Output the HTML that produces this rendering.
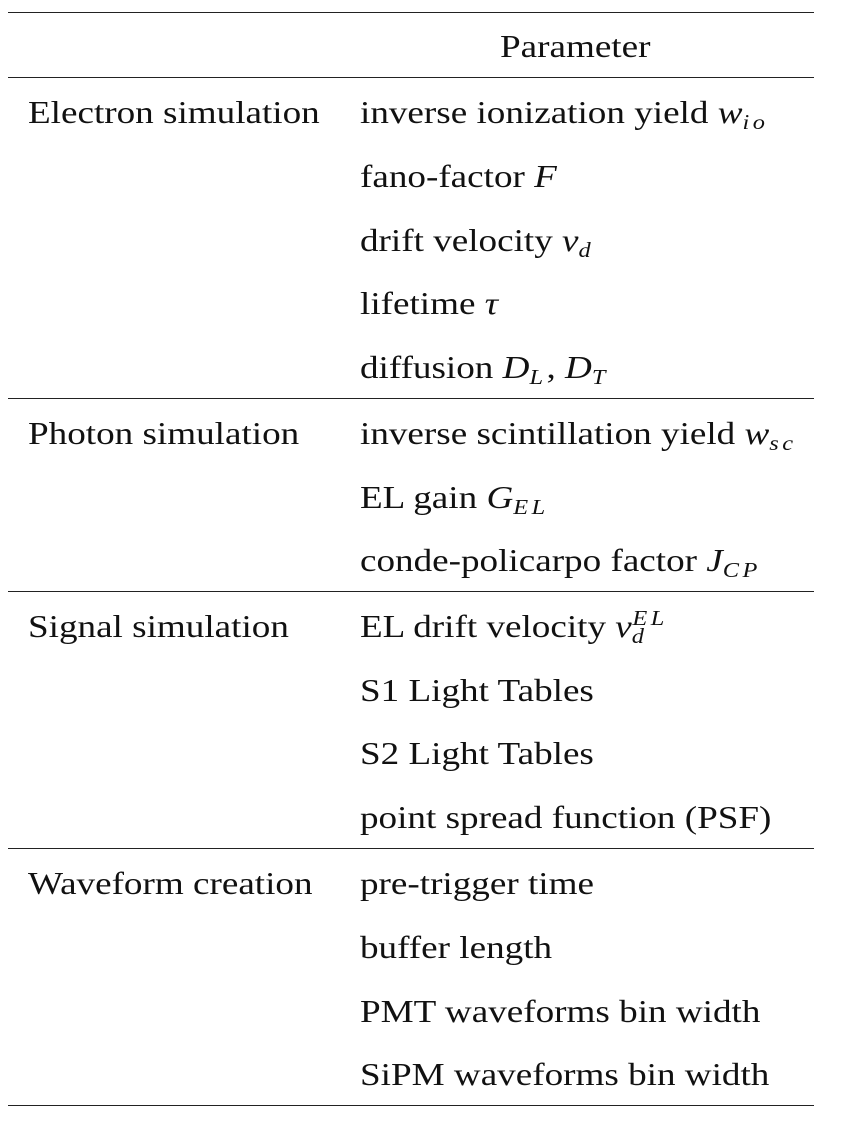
<!DOCTYPE html>
<html><head><meta charset="utf-8"><style>
html,body{margin:0;padding:0;background:#fff;}
body{width:858px;height:1122px;position:relative;overflow:hidden;font-family:"Liberation Serif",serif;color:#111;font-size:32px;}
.r{position:absolute;left:8px;width:806px;height:1px;background:#222;}
.t{position:absolute;height:40px;line-height:40px;white-space:nowrap;transform:scaleX(1.16);transform-origin:0 50%;}
i{font-style:italic;}
sub,sup{font-size:21px;font-style:italic;line-height:0;}
sub{vertical-align:-6px;letter-spacing:3px;}
sup{vertical-align:12px;letter-spacing:3px;}
</style></head><body>
<div class="r" style="top:12px"></div>
<div class="r" style="top:77px"></div>
<div class="r" style="top:398px"></div>
<div class="r" style="top:591px"></div>
<div class="r" style="top:848px"></div>
<div class="r" style="top:1105px"></div>

<div class="t" style="left:500px;top:26px">Parameter</div>

<div class="t" style="left:28px;top:92px">Electron simulation</div>
<div class="t" style="left:360px;top:92px">inverse ionization yield <i>w</i><sub>io</sub></div>
<div class="t" style="left:360px;top:156px">fano-factor <i>F</i></div>
<div class="t" style="left:360px;top:220px">drift velocity <i>v</i><sub>d</sub></div>
<div class="t" style="left:360px;top:283px">lifetime <i>τ</i></div>
<div class="t" style="left:360px;top:347px">diffusion <i>D</i><sub>L</sub>, <i>D</i><sub>T</sub></div>

<div class="t" style="left:28px;top:413px">Photon simulation</div>
<div class="t" style="left:360px;top:413px">inverse scintillation yield <i>w</i><sub>sc</sub></div>
<div class="t" style="left:360px;top:477px">EL gain <i>G</i><sub>EL</sub></div>
<div class="t" style="left:360px;top:540px">conde-policarpo factor <i>J</i><sub>CP</sub></div>

<div class="t" style="left:28px;top:606px">Signal simulation</div>
<div class="t" style="left:360px;top:606px">EL drift velocity <i>v</i><sub style="letter-spacing:0">d</sub><sup style="margin-left:-10px">EL</sup></div>
<div class="t" style="left:360px;top:670px">S1 Light Tables</div>
<div class="t" style="left:360px;top:733px">S2 Light Tables</div>
<div class="t" style="left:360px;top:797px">point spread function (PSF)</div>

<div class="t" style="left:28px;top:863px">Waveform creation</div>
<div class="t" style="left:360px;top:863px">pre-trigger time</div>
<div class="t" style="left:360px;top:927px">buffer length</div>
<div class="t" style="left:360px;top:991px">PMT waveforms bin width</div>
<div class="t" style="left:360px;top:1054px">SiPM waveforms bin width</div>
</body></html>
